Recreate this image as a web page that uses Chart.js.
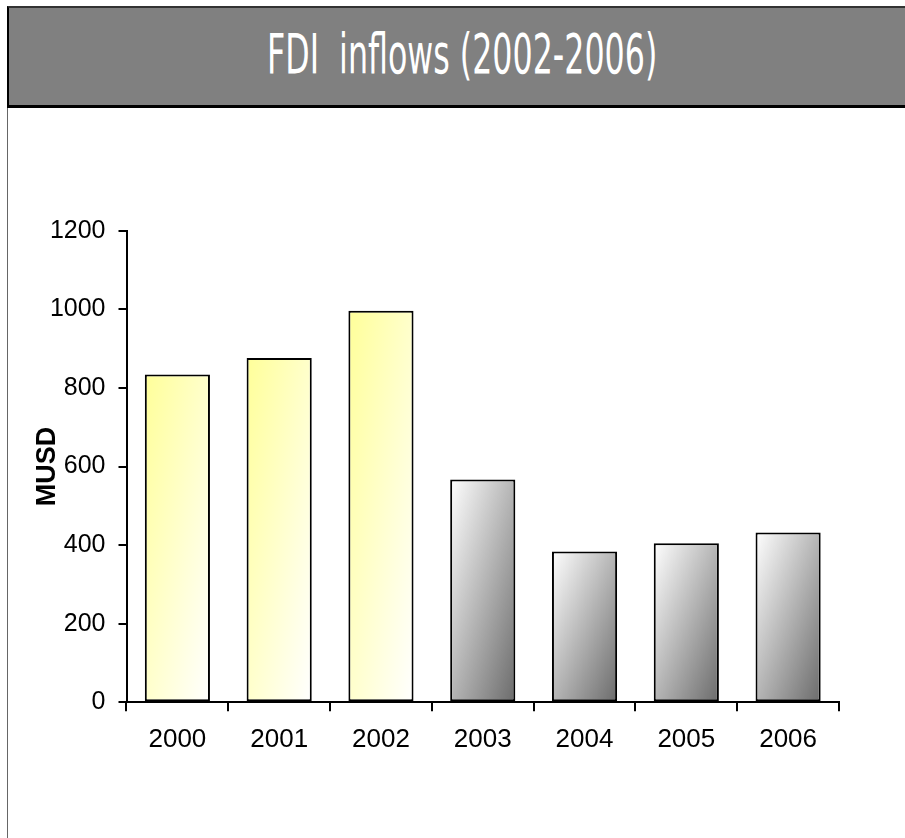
<!DOCTYPE html>
<html>
<head>
<meta charset="utf-8">
<title>FDI inflows</title>
<script src="https://cdn.jsdelivr.net/npm/chart.js@4.4.1/dist/chart.umd.min.js"></script>
<style>
  html, body { margin: 0; padding: 0; background: #fff; width: 905px; height: 838px; overflow: hidden; position: relative; }
  #bandeau { position: absolute; left: 7px; top: 6px; width: 920px; height: 97px; background: #808080;
             border-top: 2px solid #333; border-left: 2px solid #000; border-bottom: 3px solid #000; }
  #titre { position: absolute; top: 26px; left: 267px; color: #fff; white-space: pre;
           font-family: "Liberation Sans Narrow", "DejaVu Sans Condensed", "Liberation Sans", sans-serif;
           font-size: 56px; line-height: 56px; transform-origin: 0 0; }
  #bordGauche { position: absolute; left: 7px; top: 108px; width: 1px; height: 730px; background: #666; }
  #zone { position: absolute; left: 9px; top: 110px; width: 896px; height: 728px; }
</style>
</head>
<body>
<div id="bandeau"></div>
<span id="titre">FDI  inflows (2002-2006)</span>
<div id="bordGauche"></div>
<div id="zone"><canvas id="grafico"></canvas></div>

<script>
// donnees
const annees = ["2000", "2001", "2002", "2003", "2004", "2005", "2006"];
const fdi = [834, 876, 996, 567, 384, 405, 432];   // MUSD
const yTicks = [0, 200, 400, 600, 800, 1000, 1200];

const LARGEUR_BARRE = 0.64;

document.addEventListener("DOMContentLoaded", function () {
    // titre en police etroite, on le comprime pour tenir la largeur du modele
    const titre = document.getElementById("titre");
    const w = titre.offsetWidth;
    titre.style.transform = "scaleX(" + (390 / w) + ")";

    // degrade diagonal sur chaque barre (jaune pour 2000-2002, gris ensuite)
    function remplissage(context) {
        const chart = context.chart;
        const i = context.dataIndex;
        if (i === undefined || !chart.chartArea) return "#ffff99";
        const xs = chart.scales.x, ys = chart.scales.y;
        const cx = xs.getPixelForValue(i);
        const bw = (xs.getPixelForValue(1) - xs.getPixelForValue(0)) * LARGEUR_BARRE;
        const haut = ys.getPixelForValue(fdi[i]);
        const h = Math.max(ys.getPixelForValue(0) - haut, 1);
        const k = 2 / (1 / (bw * bw) + 1 / (h * h));
        const x0 = cx - bw / 2;
        const g = chart.ctx.createLinearGradient(x0, haut, x0 + k / bw, haut + k / h);
        if (parseInt(annees[i]) <= 2002) {
            g.addColorStop(0, "#ffff99");
            g.addColorStop(1, "#ffffff");
        } else {
            g.addColorStop(0, "#ffffff");
            g.addColorStop(1, "#6b6b6b");
        }
        return g;
    }

    const police = "'Liberation Sans', Arial, sans-serif";

    const ctx = document.getElementById("grafico").getContext("2d");
    new Chart(ctx, {
        type: "bar",
        data: {
            labels: annees,
            datasets: [{
                label: "FDI inflows",
                data: fdi,
                backgroundColor: remplissage,
                borderColor: "#000",
                borderWidth: 2,
                borderSkipped: false,
                barPercentage: LARGEUR_BARRE,
                categoryPercentage: 1
            }]
        },
        options: {
            responsive: true,
            maintainAspectRatio: false,
            animation: false,
            layout: { padding: { left: 0, right: 66, top: 120.7, bottom: 0 } },
            plugins: {
                legend: { display: false },
                tooltip: { enabled: false }
            },
            scales: {
                x: {
                    grid: { display: true, drawOnChartArea: false, drawTicks: true, tickLength: 9, color: "#000", lineWidth: 2, offset: true },
                    border: { display: true, color: "#000", width: 2 },
                    ticks: { color: "#000", padding: 13, font: { family: police, size: 26 } },
                    afterFit: function (s) { s.height = 135.7; }
                },
                y: {
                    min: 0,
                    max: 1200,
                    afterBuildTicks: function (s) { s.ticks = yTicks.map(v => ({ value: v })); },
                    grid: { display: true, drawOnChartArea: false, drawTicks: true, tickLength: 8, color: "#000", lineWidth: 2 },
                    border: { display: true, color: "#000", width: 2 },
                    ticks: {
                        color: "#000",
                        padding: 13,
                        font: { family: police, size: 25 },
                        callback: function (v) { return String(v); }
                    },
                    title: {
                        display: true,
                        text: "MUSD",
                        color: "#000",
                        padding: { top: 22, bottom: 0 },
                        font: { family: police, size: 27, weight: "bold" }
                    },
                    afterFit: function (s) { s.width = 117.5; }
                }
            }
        }
    });
});
</script>
</body>
</html>
